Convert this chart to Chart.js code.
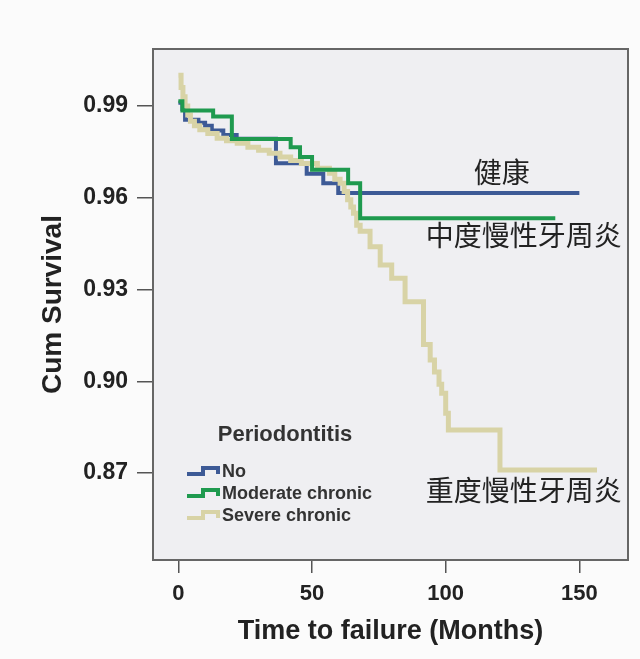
<!DOCTYPE html>
<html>
<head>
<meta charset="utf-8">
<script src="https://cdn.jsdelivr.net/npm/chart.js@4"></script>
<style>
html, body { margin: 0; padding: 0; background: #fbfbfb; }
#wrap { width: 640px; height: 659px; }
</style>
</head>
<body>
<div id="wrap"><canvas id="kmChart" width="640" height="659"></canvas></div>
<script>
// Kaplan-Meier curves (time in months, cumulative survival)
const groupNames = ['No', 'Moderate chronic', 'Severe chronic'];

const noTime = [0, 1.5, 2.5, 7.5, 10, 12.5, 16.8, 21.8, 36.5, 48, 54.2, 59.8, 150];
const noSurv = [0.991, 0.989, 0.9855, 0.9845, 0.9835, 0.982, 0.9805, 0.9793, 0.9713, 0.9678, 0.9647, 0.9615, 0.9615];

const modTime = [0, 1.5, 13, 20, 42, 45.5, 50, 63.5, 68, 141];
const modSurv = [0.9915, 0.9885, 0.9865, 0.9792, 0.9765, 0.9733, 0.9691, 0.9647, 0.9533, 0.9533];

const sevTime = [0, 1, 1.7, 2.5, 3.5, 4.5, 6, 8, 11, 14.5, 18, 22, 26, 30, 34, 38, 42, 46, 52, 56.5,
                 58.5, 60.5, 62, 63.3, 64.5, 65.5, 66.7, 68, 71.7, 75.5, 79.8, 84.8, 91.7, 94.2, 95.8,
                 97.5, 98.5, 100, 101, 120.3, 156.6];
const sevSurv = [1.0, 0.996, 0.993, 0.990, 0.987, 0.985, 0.9835, 0.9822, 0.981, 0.9794, 0.9786, 0.9778, 0.9765, 0.9755, 0.9745, 0.9733, 0.9722, 0.9712, 0.9696, 0.968,
                 0.966, 0.9647, 0.962, 0.9593, 0.957, 0.9549, 0.951, 0.949, 0.944, 0.938, 0.9337, 0.926, 0.912, 0.907, 0.903,
                 0.899, 0.8961, 0.8896, 0.8841, 0.871, 0.871];

const xTicks = [0, 50, 100, 150];
const yTicks = [0.87, 0.90, 0.93, 0.96, 0.99];

// chinese labels next to the curves, placed in data units
const noteTexts = ['健康', '中度慢性牙周炎', '重度慢性牙周炎'];
const noteMonth = [121, 129.2, 129.2];
const noteSurv = [0.9684, 0.9478, 0.8645];

const lineColors = ['#3d5a96', '#1f9a4f', '#d8d3a6'];

function toPoints(t, s) {
  return t.map((x, i) => ({ x: x, y: s[i] }));
}

const frame = {
  id: 'frame',
  beforeDraw(chart) {
    const { ctx, chartArea: a } = chart;
    ctx.save();
    ctx.fillStyle = '#fbfbfb';
    ctx.fillRect(0, 0, chart.width, chart.height);
    ctx.fillStyle = '#efeff2';
    ctx.fillRect(a.left, a.top, a.right - a.left, a.bottom - a.top);
    ctx.restore();
  },
  afterDatasetsDraw(chart) {
    const { ctx, chartArea: a, scales } = chart;
    ctx.save();
    ctx.strokeStyle = '#666';
    ctx.lineWidth = 2;
    ctx.strokeRect(a.left, a.top, a.right - a.left, a.bottom - a.top);

    // legend (bottom left inside the plot)
    ctx.fillStyle = '#333';
    ctx.textBaseline = 'middle';
    ctx.textAlign = 'center';
    ctx.font = 'bold 22px "Liberation Sans", Arial, sans-serif';
    ctx.fillText('Periodontitis', a.left + 132, a.bottom - 125);
    ctx.textAlign = 'left';
    ctx.font = 'bold 18px "Liberation Sans", Arial, sans-serif';
    const rows = [-89, -67, -45];
    groupNames.forEach((name, i) => {
      const y = a.bottom + rows[i];
      const x0 = a.left + 34;
      ctx.strokeStyle = lineColors[i];
      ctx.lineWidth = 4;
      ctx.beginPath();
      ctx.moveTo(x0, y + 3);
      ctx.lineTo(x0 + 16, y + 3);
      ctx.lineTo(x0 + 16, y - 3);
      ctx.lineTo(x0 + 31, y - 3);
      ctx.lineTo(x0 + 31, y + 3);
      ctx.stroke();
      ctx.fillStyle = '#333';
      ctx.fillText(name, x0 + 35, y + 1);
    });

    // curve notes
    ctx.fillStyle = '#222';
    ctx.textAlign = 'center';
    ctx.font = '28px "Noto Sans CJK SC", sans-serif';
    noteTexts.forEach((t, i) => {
      ctx.fillText(t, scales.x.getPixelForValue(noteMonth[i]), scales.y.getPixelForValue(noteSurv[i]));
    });
    ctx.restore();
  }
};

const ctx = document.getElementById('kmChart').getContext('2d');

const kmChart = new Chart(ctx, {
  type: 'line',
  data: {
    datasets: [
      { label: groupNames[0], data: toPoints(noTime, noSurv), borderColor: lineColors[0], borderWidth: 4, order: 2 },
      { label: groupNames[1], data: toPoints(modTime, modSurv), borderColor: lineColors[1], borderWidth: 4, order: 0 },
      { label: groupNames[2], data: toPoints(sevTime, sevSurv), borderColor: lineColors[2], borderWidth: 5, order: 1 }
    ]
  },
  options: {
    responsive: false,
    animation: false,
    elements: {
      point: { radius: 0 },
      line: { stepped: true, tension: 0, fill: false, borderJoinStyle: 'miter' }
    },
    layout: { padding: { top: 49, right: 12, left: 0, bottom: 0 } },
    plugins: {
      legend: { display: false },
      tooltip: { enabled: false }
    },
    scales: {
      x: {
        type: 'linear',
        min: -9.5,
        max: 168.2,
        afterBuildTicks: (s) => { s.ticks = xTicks.map(v => ({ value: v })); },
        afterFit: (s) => { s.height = 99; },
        grid: { drawOnChartArea: false, drawTicks: true, tickLength: 13, color: '#555', lineWidth: 1.5 },
        border: { display: false },
        ticks: {
          padding: 8,
          color: '#222',
          font: { family: '"Liberation Sans", Arial, sans-serif', size: 22, weight: 'bold' },
          callback: (v) => String(v)
        },
        title: {
          display: true,
          text: 'Time to failure (Months)',
          color: '#222',
          font: { family: '"Liberation Sans", Arial, sans-serif', size: 27, weight: 'bold' },
          padding: { top: 0, bottom: 11 }
        }
      },
      y: {
        type: 'linear',
        min: 0.8416,
        max: 1.0086,
        afterBuildTicks: (s) => { s.ticks = yTicks.map(v => ({ value: v })); },
        afterFit: (s) => { s.width = 153; },
        grid: { drawOnChartArea: false, drawTicks: true, tickLength: 16, color: '#555', lineWidth: 1.5 },
        border: { display: false },
        ticks: {
          padding: 9,
          color: '#222',
          font: { family: '"Liberation Sans", Arial, sans-serif', size: 23, weight: 'bold' },
          callback: (v) => v.toFixed(2)
        },
        title: {
          display: true,
          text: 'Cum Survival',
          color: '#222',
          font: { family: '"Liberation Sans", Arial, sans-serif', size: 28, weight: 'bold' },
          padding: { top: 36, bottom: 0 }
        }
      }
    }
  },
  plugins: [frame]
});
</script>
</body>
</html>
